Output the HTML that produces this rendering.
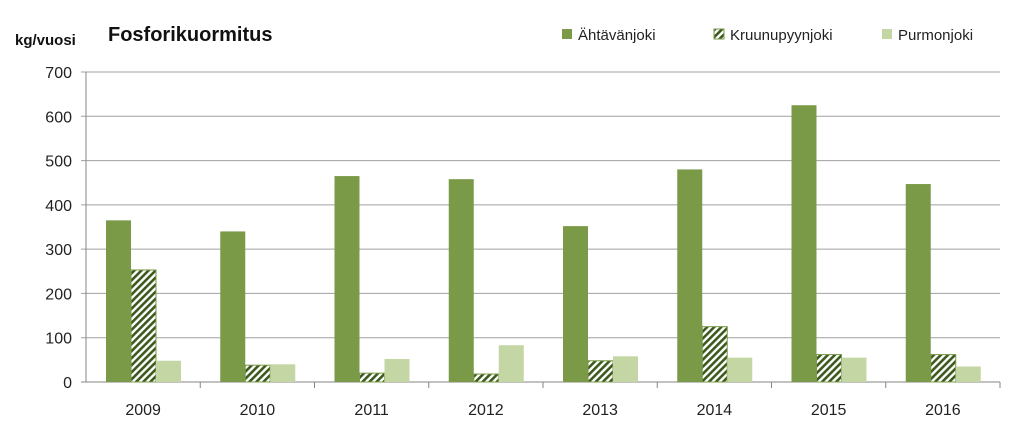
<!DOCTYPE html>
<html><head><meta charset="utf-8"><style>
body{margin:0;background:#fff;font-family:"Liberation Sans",sans-serif}
svg text{font-family:"Liberation Sans",sans-serif}
</style></head><body>
<svg id="c" width="1024" height="434" xmlns="http://www.w3.org/2000/svg">
<defs><pattern id="hatch" width="5" height="5" patternUnits="userSpaceOnUse" patternTransform="rotate(45)"><rect width="5" height="5" fill="#fff"/><rect width="2.6" height="5" fill="#3d5a1e"/></pattern></defs>
<text x="15" y="45" font-size="15" font-weight="bold" fill="#111">kg/vuosi</text>
<text x="108" y="41" font-size="20" font-weight="bold" fill="#111">Fosforikuormitus</text>
<g>
<rect x="562" y="29" width="10" height="10" fill="#7a9a48"/>
<text x="578" y="40" font-size="15" fill="#222">Ähtävänjoki</text>
<rect x="714" y="29" width="10" height="10" fill="url(#hatch)" stroke="#7a9a48"/>
<text x="730" y="40" font-size="15" fill="#222">Kruunupyynjoki</text>
<rect x="882" y="29" width="10" height="10" fill="#c3d6a4"/>
<text x="898" y="40" font-size="15" fill="#222">Purmonjoki</text>
</g>
<g id="plot"></g>
</svg>
<script>
const categories=["2009","2010","2011","2012","2013","2014","2015","2016"];
const ahtavanjoki=[365,340,465,458,352,480,625,447];
const kruunupyynjoki=[253,38,20,18,48,125,62,62];
const purmonjoki=[48,40,52,83,58,55,55,35];
const yTicks=[0,100,200,300,400,500,600,700];
const NS="http://www.w3.org/2000/svg";
const g=document.getElementById('plot');
const x0=86,x1=1000,yb=382,yt=72,ymax=700;
const y=v=>yb-(v/ymax)*(yb-yt);
const cw=(x1-x0)/categories.length;
function el(t,a){const e=document.createElementNS(NS,t);for(const k in a)e.setAttribute(k,a[k]);g.appendChild(e);return e;}
yTicks.forEach(v=>{
 const l=el('line',{x1:x0-5,x2:x1,y1:y(v),y2:y(v),stroke:v===0?'#868686':'#a0a0a0','stroke-width':1});
 
 
 const t=el('text',{x:x0-14,y:y(v)+6,'text-anchor':'end','font-size':16,fill:'#222'});
 t.textContent=v;
 
 
});
const ax=el('line',{x1:x0,x2:x0,y1:yt,y2:yb,stroke:'#868686'});


const series=[[ahtavanjoki,'#7a9a48','none','ahtavanjoki'],[kruunupyynjoki,'url(#hatch)','#7a9a48','kruunupyynjoki'],[purmonjoki,'#c3d6a4','none','purmonjoki']];
const bw=25,off=20;
categories.forEach((c,i)=>{
 const cx=x0+i*cw;
 const tk=el('line',{x1:cx+cw,x2:cx+cw,y1:yb,y2:yb+6,stroke:'#868686'});
 
 
 const t=el('text',{x:cx+cw/2,y:yb+33,'text-anchor':'middle','font-size':16,fill:'#222'});
 t.textContent=c;
 
 
 series.forEach((s,j)=>{
  const v=s[0][i];
  const r=el('rect',{x:cx+off+j*bw,y:y(v),width:bw,height:yb-y(v),fill:s[1],stroke:s[2]});
  
  
 });
});
</script>
</body></html>
